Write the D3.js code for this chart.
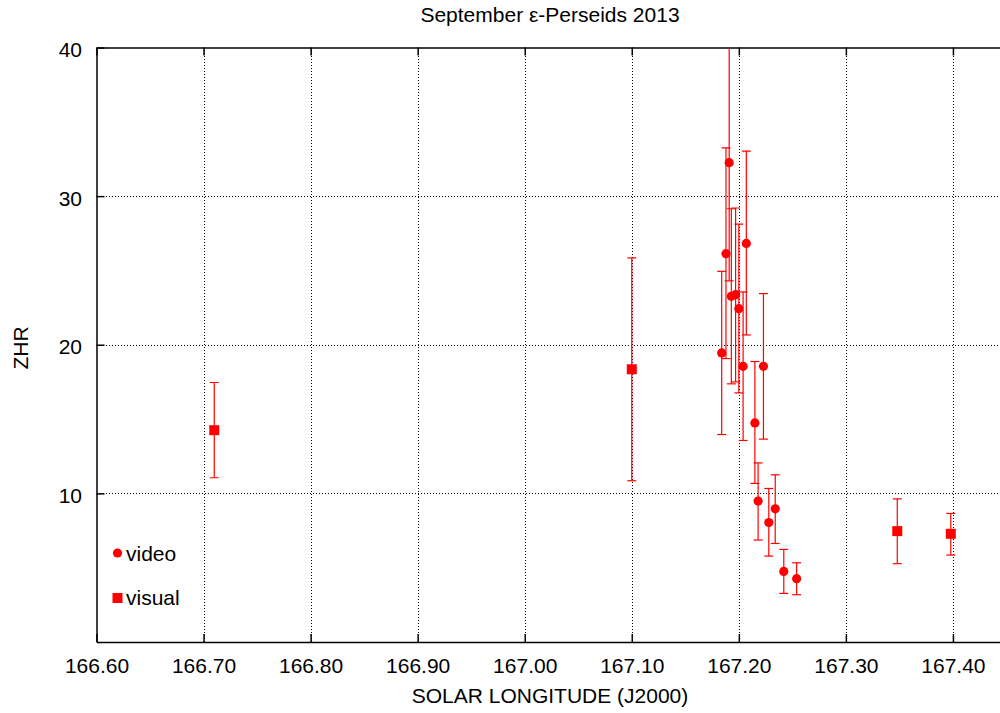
<!DOCTYPE html>
<meta charset="utf-8">
<style>
body { margin: 0; background: #fff; }
svg { font-family: "Liberation Sans", Arial, sans-serif; }
.axis path { stroke: #000; stroke-width: 1.5px; }
.axis line { stroke: #000; stroke-width: 1.5px; }
.axis text { font-size: 21px; fill: #000; font-family: "Liberation Sans", Arial, sans-serif; }
.grid line { stroke: #000; stroke-width: 1px; stroke-dasharray: 1,2; shape-rendering: crispEdges; }
.grid path { stroke: none; }
.err { stroke: #f00; stroke-width: 1.2px; fill: none; }
.label { font-size: 21px; fill: #000; }
</style>
<body>
<script src="https://d3js.org/d3.v7.min.js"></script>
<script>

var width = 1000,
    height = 713,
    margin = {left: 96.5, right: -1, top: 47.5, bottom: 71};

// video observations: solar longitude, ZHR, error bar low/high
var videoLong = [167.184, 167.188, 167.191, 167.193, 167.197, 167.200, 167.204, 167.207,
                 167.215, 167.218, 167.223, 167.228, 167.234, 167.242, 167.254];
var videoZHR  = [19.45, 26.13, 32.25, 23.26, 23.37, 22.43, 18.55, 26.82,
                 14.74, 9.48, 18.55, 8.04, 8.96, 4.75, 4.26];
var videoLow  = [13.96, 19.07, 24.3, 17.37, 17.5, 16.76, 13.56, 20.66,
                 10.67, 6.86, 13.65, 5.78, 6.63, 3.27, 3.18];
var videoHigh = [24.94, 33.25, 40.2, 29.15, 29.2, 28.12, 23.55, 33.03,
                 18.87, 12.05, 23.44, 10.33, 11.25, 6.23, 5.33];

// visual observations
var visualLong = [166.710, 167.100, 167.348, 167.398];
var visualZHR  = [14.25, 18.35, 7.46, 7.28];
var visualLow  = [11.05, 10.85, 5.27, 5.85];
var visualHigh = [17.46, 25.84, 9.63, 8.65];

var xTicks = [166.60, 166.70, 166.80, 166.90, 167.00, 167.10, 167.20, 167.30, 167.40];
var yTicks = [10, 20, 30, 40];

var video = videoLong.map(function(d, i) {
  return {x: d, y: videoZHR[i], lo: videoLow[i], hi: videoHigh[i]};
});
var visual = visualLong.map(function(d, i) {
  return {x: d, y: visualZHR[i], lo: visualLow[i], hi: visualHigh[i]};
});

var x = d3.scaleLinear()
    .domain([166.6, 167.4449])
    .range([margin.left, width - margin.right]);

var y = d3.scaleLinear()
    .domain([0, 40])
    .range([height - margin.bottom, margin.top]);

var svg = d3.select("body").append("svg")
    .attr("width", width)
    .attr("height", height);

svg.append("defs").append("clipPath").attr("id", "plot")
  .append("rect")
    .attr("x", x.range()[0])
    .attr("y", y.range()[1])
    .attr("width", x.range()[1] - x.range()[0])
    .attr("height", y.range()[0] - y.range()[1]);

// grid
svg.append("g")
    .attr("class", "grid")
    .attr("transform", "translate(0," + y(0) + ")")
    .call(d3.axisBottom(x).tickValues(xTicks.slice(1)).tickSize(-(y(0) - y(40))).tickFormat(""));

svg.append("g")
    .attr("class", "grid")
    .attr("transform", "translate(" + x(166.6) + ",0)")
    .call(d3.axisLeft(y).tickValues([10, 20, 30]).tickSize(-(x.range()[1] - x(166.6))).tickFormat(""));

// axes, ticks pointing inward
svg.append("g")
    .attr("class", "axis")
    .attr("transform", "translate(0," + y(0) + ")")
    .call(d3.axisBottom(x).tickValues(xTicks).tickSize(-8).tickSizeOuter(0).tickPadding(16)
      .tickFormat(d3.format(".2f")));

svg.append("g")
    .attr("class", "axis")
    .attr("transform", "translate(0," + y(40) + ")")
    .call(d3.axisTop(x).tickValues(xTicks).tickSize(-8).tickSizeOuter(0).tickFormat(""));

svg.append("g")
    .attr("class", "axis")
    .attr("transform", "translate(" + x(166.6) + ",0)")
    .call(d3.axisLeft(y).tickValues(yTicks).tickSize(-8).tickSizeOuter(0).tickPadding(14.5))
  .selectAll("text")
    .attr("dy", "0.43em");

// titles
svg.append("text")
    .attr("class", "label")
    .attr("x", 550)
    .attr("y", 22)
    .attr("text-anchor", "middle")
    .text("September \u03b5-Perseids 2013");

svg.append("text")
    .attr("class", "label")
    .attr("x", 550)
    .attr("y", 703)
    .attr("text-anchor", "middle")
    .text("SOLAR LONGITUDE (J2000)");

svg.append("text")
    .attr("class", "label")
    .attr("transform", "translate(28,348) rotate(-90)")
    .attr("text-anchor", "middle")
    .text("ZHR");

// data
var plot = svg.append("g").attr("clip-path", "url(#plot)");

function errorBars(data) {
  var g = plot.append("g").selectAll("g").data(data).enter().append("g").attr("class", "err");
  g.append("line")
      .attr("x1", function(d) { return x(d.x); })
      .attr("x2", function(d) { return x(d.x); })
      .attr("y1", function(d) { return y(d.lo); })
      .attr("y2", function(d) { return y(d.hi); });
  g.append("line")
      .attr("x1", function(d) { return x(d.x) - 4.5; })
      .attr("x2", function(d) { return x(d.x) + 4.5; })
      .attr("y1", function(d) { return y(d.lo); })
      .attr("y2", function(d) { return y(d.lo); });
  g.append("line")
      .attr("x1", function(d) { return x(d.x) - 4.5; })
      .attr("x2", function(d) { return x(d.x) + 4.5; })
      .attr("y1", function(d) { return y(d.hi); })
      .attr("y2", function(d) { return y(d.hi); });
}

errorBars(video);
errorBars(visual);

plot.append("g").selectAll("circle")
    .data(video).enter().append("circle")
    .attr("cx", function(d) { return x(d.x); })
    .attr("cy", function(d) { return y(d.y); })
    .attr("r", 4.6)
    .attr("fill", "#f00");

plot.append("g").selectAll("rect")
    .data(visual).enter().append("rect")
    .attr("x", function(d) { return x(d.x) - 5; })
    .attr("y", function(d) { return y(d.y) - 5; })
    .attr("width", 10)
    .attr("height", 10)
    .attr("fill", "#f00");

// legend
var legend = svg.append("g").attr("transform", "translate(117.5,553)");
legend.append("circle").attr("r", 4.6).attr("fill", "#f00");
legend.append("text").attr("class", "label").attr("x", 8.5).attr("y", 7.5).text("video");
legend.append("rect").attr("x", -5).attr("y", 40).attr("width", 10).attr("height", 10).attr("fill", "#f00");
legend.append("text").attr("class", "label").attr("x", 8.5).attr("y", 52).text("visual");

</script>
